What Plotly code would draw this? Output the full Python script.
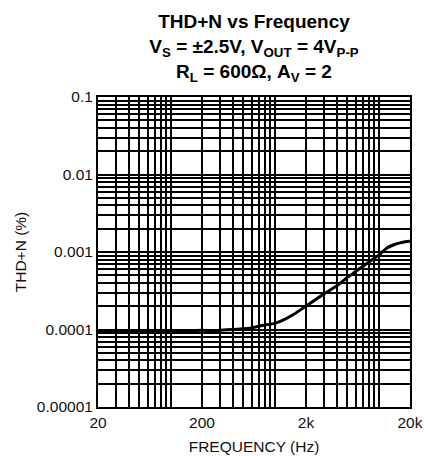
import math
import plotly.graph_objects as go

freq_hz = [20, 25, 30, 40, 50, 60, 80, 100, 120, 150, 200, 250, 300, 400, 500, 600, 700, 800,
           1000, 1200, 1500, 2000, 2500, 3000, 4000, 5000, 6000, 7000, 8000, 10000, 12000,
           14000, 16000, 18000, 20000]
thdn_pct = [9.5e-5, 9.6e-5, 9.5e-5, 9.6e-5, 9.5e-5, 9.6e-5, 9.7e-5, 9.6e-5, 9.5e-5, 9.6e-5,
            9.8e-5, 9.6e-5, 9.8e-5, 1.0e-4, 1.02e-4, 1.05e-4, 1.1e-4, 1.14e-4,
            1.2e-4, 1.32e-4, 1.55e-4, 2.0e-4, 2.45e-4, 2.9e-4, 3.7e-4, 4.7e-4, 5.6e-4, 6.5e-4,
            7.4e-4, 9.1e-4, 1.13e-3, 1.24e-3, 1.31e-3, 1.36e-3, 1.38e-3]

x_tickvals = [20, 200, 2000, 20000]
x_ticktext = ["20", "200", "2k", "20k"]
y_tickvals = [0.1, 0.01, 0.001, 0.0001, 0.00001]
y_ticktext = ["0.1", "0.01", "0.001", "0.0001", "0.00001"]

FONT = "Liberation Sans, Arial, sans-serif"

fig = go.Figure()
fig.add_trace(go.Scatter(x=freq_hz, y=thdn_pct, mode="lines",
                         line=dict(color="black", width=3, shape="spline", smoothing=0.6),
                         showlegend=False, hoverinfo="skip"))

axis_common = dict(
    showline=True, linecolor="black", linewidth=2, mirror=True,
    showgrid=True, gridcolor="black", gridwidth=1.5,
    ticks="", zeroline=False, automargin=False,
    tickfont=dict(family=FONT, size=15.5, color="#111"),
    minor=dict(dtick="D1", showgrid=True, gridcolor="black", gridwidth=1.5, ticks=""),
)

fig.update_xaxes(type="log", range=[math.log10(20), math.log10(20000)],
                 tickmode="array", tickvals=x_tickvals, ticktext=x_ticktext,
                 title=dict(text="FREQUENCY (Hz)", font=dict(family=FONT, size=15.5, color="#111"),
                            standoff=12),
                 **axis_common)
fig.update_yaxes(type="log", range=[-5, -1],
                 tickmode="array", tickvals=y_tickvals, ticktext=y_ticktext,
                 title=dict(text="THD+N (%)", font=dict(family=FONT, size=15.5, color="#111"),
                            standoff=6),
                 **axis_common)

fig.update_layout(
    width=428, height=456,
    margin=dict(l=98, r=18, t=97, b=49),
    paper_bgcolor="white", plot_bgcolor="white",
    title=dict(
        text="<b>THD+N vs Frequency<br>V<sub>S</sub> = ±2.5V, V<sub>OUT</sub> = 4V<sub>P-P</sub><br>"
             "R<sub>L</sub> = 600Ω, A<sub>V</sub> = 2</b>",
        x=0.5, xref="paper", xanchor="center", y=0.938, yanchor="top",
        font=dict(family=FONT, size=19, color="black"),
    ),
)

fig.write_html("out.html", config={"displayModeBar": False},
               post_script="document.body.style.margin='0';")
